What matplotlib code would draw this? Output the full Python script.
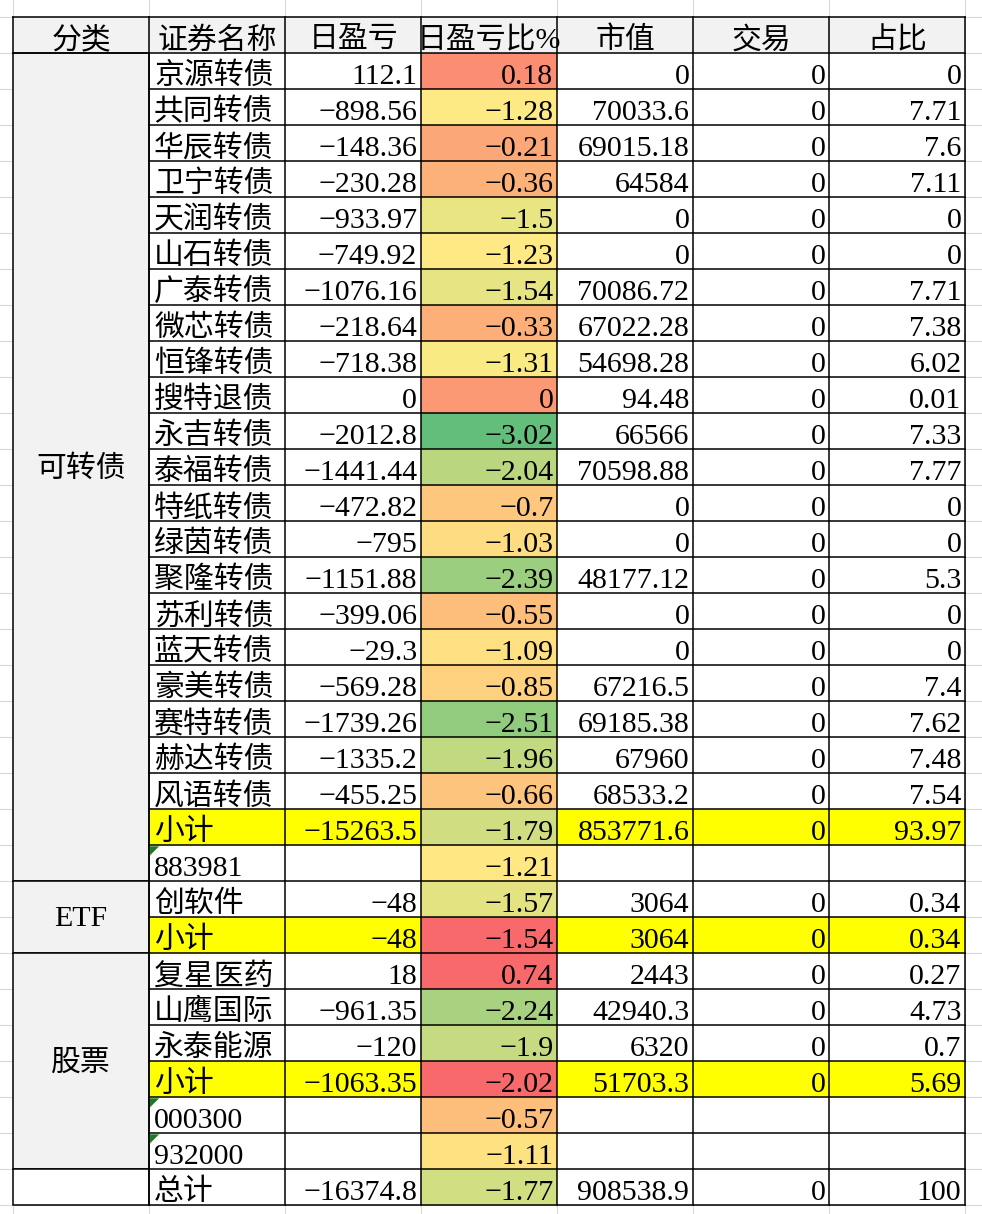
import matplotlib
matplotlib.use('Agg')
import matplotlib.pyplot as plt
from matplotlib.patches import Rectangle, Polygon
import numpy as np

plt.rcParams['font.family'] = ['Liberation Serif', 'Noto Sans CJK SC', 'DejaVu Sans']

# table data
headers = ['分类', '证券名称', '日盈亏', '日盈亏比%', '市值', '交易', '占比']
groups = ['可转债', 'ETF', '股票', '']
group_sizes = [23, 2, 6, 1]
names = ['京源转债', '共同转债', '华辰转债', '卫宁转债', '天润转债', '山石转债', '广泰转债',
         '微芯转债', '恒锋转债', '搜特退债', '永吉转债', '泰福转债', '特纸转债', '绿茵转债',
         '聚隆转债', '苏利转债', '蓝天转债', '豪美转债', '赛特转债', '赫达转债', '风语转债',
         '小计', '883981',
         '创软件', '小计',
         '复星医药', '山鹰国际', '永泰能源', '小计', '000300', '932000',
         '总计']
pnl = [112.1, -898.56, -148.36, -230.28, -933.97, -749.92, -1076.16,
       -218.64, -718.38, 0, -2012.8, -1441.44, -472.82, -795,
       -1151.88, -399.06, -29.3, -569.28, -1739.26, -1335.2, -455.25,
       -15263.5, None,
       -48, -48,
       18, -961.35, -120, -1063.35, None, None,
       -16374.8]
pnl_pct = [0.18, -1.28, -0.21, -0.36, -1.5, -1.23, -1.54,
           -0.33, -1.31, 0, -3.02, -2.04, -0.7, -1.03,
           -2.39, -0.55, -1.09, -0.85, -2.51, -1.96, -0.66,
           -1.79, -1.21,
           -1.57, -1.54,
           0.74, -2.24, -1.9, -2.02, -0.57, -1.11,
           -1.77]
market_value = [0, 70033.6, 69015.18, 64584, 0, 0, 70086.72,
                67022.28, 54698.28, 94.48, 66566, 70598.88, 0, 0,
                48177.12, 0, 0, 67216.5, 69185.38, 67960, 68533.2,
                853771.6, None,
                3064, 3064,
                2443, 42940.3, 6320, 51703.3, None, None,
                908538.9]
trade = [0] * 21 + [0, None] + [0, 0] + [0, 0, 0, 0, None, None] + [0]
share = [0, 7.71, 7.6, 7.11, 0, 0, 7.71,
         7.38, 6.02, 0.01, 7.33, 7.77, 0, 0,
         5.3, 0, 0, 7.4, 7.62, 7.48, 7.54,
         93.97, None,
         0.34, 0.34,
         0.27, 4.73, 0.7, 5.69, None, None,
         100]
# subtotals of these groups carry their own one-cell colour rule
own_rule_groups = ['ETF', '股票']

W, H = 982, 1214
fig = plt.figure(figsize=(W / 100, H / 100), dpi=100)
ax = fig.add_axes([0, 0, 1, 1])
ax.set_xlim(0, W)
ax.set_ylim(H, 0)
ax.axis('off')

col_x = np.linspace(13, 965.5, 8)
top = 17.3
row_h = 36.0
n_rows = len(names) + 1
row_y = top + row_h * np.arange(n_rows + 1)
fs = 21.5


def fmt(v):
    if v is None:
        return ''
    return ('%.10g' % v).replace('-', '\u2212')


vals = np.array(pnl_pct)
lo, mid, hi = vals.min(), np.percentile(vals, 50), vals.max()
c_lo = np.array([99, 190, 123]) / 255
c_mid = np.array([255, 235, 132]) / 255
c_hi = np.array([248, 105, 107]) / 255


def scale_color(v):
    if v <= mid:
        t = (v - lo) / (mid - lo)
        return c_lo + (c_mid - c_lo) * t
    t = (v - mid) / (hi - mid)
    return c_mid + (c_hi - c_mid) * t


# sheet gridlines
for x in col_x:
    ax.plot([x, x], [0, H], color='#d9d9d9', lw=0.8, zorder=0)
for y in row_y:
    ax.plot([0, W], [y, y], color='#d9d9d9', lw=0.8, zorder=0)


def cell(c, r, color):
    ax.add_patch(Rectangle((col_x[c], row_y[r]), col_x[c + 1] - col_x[c], row_h,
                           facecolor=color, edgecolor='none', zorder=1))


# header
for c, h in enumerate(headers):
    cell(c, 0, '#f2f2f2')
    ax.text((col_x[c] + col_x[c + 1]) / 2, row_y[1] - 5, h, ha='center', va='baseline',
            fontsize=fs, zorder=3)

# group of each row
row_group = []
for g, n in zip(groups, group_sizes):
    row_group += [g] * n

for i, name in enumerate(names):
    r = i + 1
    sub = name == '小计'
    fill = 'yellow' if sub else 'white'
    for c in [1, 2, 4, 5, 6]:
        cell(c, r, fill)
    if sub and row_group[i] in own_rule_groups:
        cell(3, r, c_hi)
    else:
        cell(3, r, scale_color(pnl_pct[i]))
    base = row_y[r + 1] - 5
    ax.text(col_x[1] + 5, base, name, ha='left', va='baseline', fontsize=fs, zorder=3)
    for c, series in zip([2, 3, 4, 5, 6], [pnl, pnl_pct, market_value, trade, share]):
        ax.text(col_x[c + 1] - 4, base, fmt(series[i]), ha='right', va='baseline',
                fontsize=fs, zorder=3)
    if name.isdigit():
        x0, y0 = col_x[1] + 1, row_y[r] + 1
        ax.add_patch(Polygon([(x0, y0), (x0 + 9, y0), (x0, y0 + 9)], closed=True,
                             facecolor='#1b7a1b', edgecolor='none', zorder=4))

# merged category cells
start = 1
for g, n in zip(groups, group_sizes):
    y0, y1 = row_y[start], row_y[start + n]
    ax.add_patch(Rectangle((col_x[0], y0), col_x[1] - col_x[0], y1 - y0,
                           facecolor='#f2f2f2' if g else 'white', edgecolor='black',
                           lw=1.1, zorder=2))
    if g:
        ax.text((col_x[0] + col_x[1]) / 2, (y0 + y1) / 2 + 2, g, ha='center', va='center',
                fontsize=fs, zorder=3)
    start += n

# borders
for y in row_y:
    ax.plot([col_x[1], col_x[-1]], [y, y], color='black', lw=1.1, zorder=2)
ax.plot([col_x[0], col_x[1]], [row_y[0], row_y[0]], color='black', lw=1.1, zorder=2)
ax.plot([col_x[0], col_x[1]], [row_y[1], row_y[1]], color='black', lw=1.1, zorder=2)
for x in col_x:
    ax.plot([x, x], [row_y[0], row_y[-1]] if x != col_x[0] else [row_y[0], row_y[1]],
            color='black', lw=1.1, zorder=2)

fig.savefig('out.png', dpi=100)
